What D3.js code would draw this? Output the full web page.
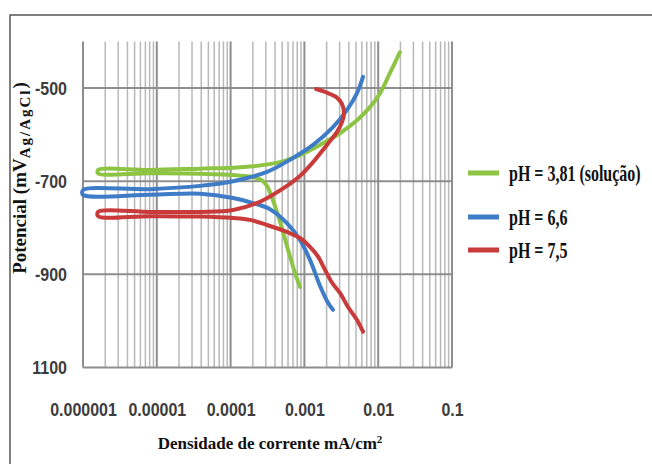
<!DOCTYPE html>
<html>
<head>
<meta charset="utf-8">
<script src="https://cdn.jsdelivr.net/npm/d3@7"></script>
<style>
  body { margin: 0; background: #fff; }
  svg { display: block; }
</style>
</head>
<body>
<svg id="chart" width="652" height="464"></svg>
<script>
// Polarization curves: [current density (mA/cm²), potential (mV Ag/AgCl)]
// Each curve is stored as its anodic and cathodic branch, both starting at the corrosion potential.
const green_anodic = [
  [1.6e-6, -676], [8.1e-6, -676], [3.85e-5, -673], [1.08e-4, -671], [2.01e-4, -668],
  [4.67e-4, -659], [8.7e-4, -644], [1.63e-3, -622], [3.03e-3, -597], [5.16e-3, -569],
  [7.74e-3, -541], [1.06e-2, -511], [1.44e-2, -468], [1.97e-2, -423]
];
const green_cathodic = [
  [1.6e-6, -683], [8.1e-6, -683], [3.85e-5, -684], [1.34e-4, -688], [2.14e-4, -692],
  [2.66e-4, -698], [3.11e-4, -710], [3.87e-4, -747], [4.82e-4, -794], [6.0e-4, -847],
  [7.46e-4, -897], [8.7e-4, -927]
];
const blue_anodic = [
  [1.0e-6, -719], [8.1e-6, -717], [3.85e-5, -710], [1.08e-4, -700], [3.11e-4, -680],
  [7.0e-4, -650], [1.31e-3, -622], [2.44e-3, -584], [3.78e-3, -547], [5.16e-3, -511],
  [6.22e-3, -476]
];
const blue_cathodic = [
  [1.0e-6, -729], [8.1e-6, -729], [3.85e-5, -727], [1.08e-4, -736], [2.01e-4, -747],
  [3.42e-4, -760], [5.8e-4, -790], [8.7e-4, -826], [1.19e-3, -869], [1.63e-3, -925],
  [2.09e-3, -961], [2.44e-3, -976]
];
const red_anodic = [
  [1.6e-6, -766], [8.1e-6, -766], [3.85e-5, -766], [1.08e-4, -762], [2.5e-4, -744],
  [5.8e-4, -710], [8.7e-4, -689], [1.31e-3, -659], [2.02e-3, -622], [2.77e-3, -594],
  [3.23e-3, -573], [3.44e-3, -556], [3.23e-3, -534], [2.68e-3, -519], [1.96e-3, -509],
  [1.44e-3, -502]
];
const red_cathodic = [
  [1.6e-6, -775], [8.1e-6, -775], [3.85e-5, -776], [1.08e-4, -779], [1.83e-4, -783],
  [3.11e-4, -794], [5.8e-4, -809], [8.7e-4, -822], [1.19e-3, -841], [1.53e-3, -862],
  [1.9e-3, -890], [2.37e-3, -918], [3.03e-3, -940], [3.9e-3, -970], [5.16e-3, -998],
  [6.22e-3, -1023]
];

const seriesNames = ["pH = 3,81 (solução)", "pH = 6,6", "pH = 7,5"];
const seriesColors = ["#8dc443", "#3f7cc8", "#c93a3a"];

const xTickValues = [1e-6, 1e-5, 1e-4, 1e-3, 1e-2, 1e-1];
const xTickLabels = ["0.000001", "0.00001", "0.0001", "0.001", "0.01", "0.1"];
const yTickValues = [-1100, -900, -700, -500];
const yTickLabels = ["1100", "-900", "-700", "-500"];

const series = [
  { name: seriesNames[0], color: seriesColors[0], anodic: green_anodic, cathodic: green_cathodic },
  { name: seriesNames[1], color: seriesColors[1], anodic: blue_anodic, cathodic: blue_cathodic },
  { name: seriesNames[2], color: seriesColors[2], anodic: red_anodic, cathodic: red_cathodic }
];

const svg = d3.select("#chart");
const serif = "'Liberation Serif', 'Times New Roman', serif";
const sans = "'Liberation Sans', Arial, sans-serif";

// frame around the figure
svg.append("rect")
  .attr("x", 10).attr("y", 15).attr("width", 700).attr("height", 500)
  .attr("fill", "none").attr("stroke", "#555").attr("stroke-width", 1.5);

const x = d3.scaleLog().domain([1e-6, 1e-1]).range([83, 452]);
const y = d3.scaleLinear().domain([-1100, -400]).range([367.5, 41.5]);

// vertical grid: decades plus 2..9 subdivisions
const grid = svg.append("g");
const vLines = [];
for (let e = -6; e <= -2; e++) {
  for (let k = 1; k <= 9; k++) vLines.push({ v: k * Math.pow(10, e), major: k === 1 });
}
vLines.push({ v: 1e-1, major: true });
grid.selectAll("line.v").data(vLines).join("line")
  .attr("class", "v")
  .attr("x1", d => x(d.v)).attr("x2", d => x(d.v))
  .attr("y1", y(-400)).attr("y2", y(-1100))
  .attr("stroke", d => d.major ? "#8e8e8e" : "#b8b8b8")
  .attr("stroke-width", d => d.major ? 2 : 1.5);

grid.selectAll("line.h").data(yTickValues).join("line")
  .attr("class", "h")
  .attr("x1", x(1e-6)).attr("x2", x(1e-1))
  .attr("y1", d => y(d)).attr("y2", d => y(d))
  .attr("stroke", "#8e8e8e").attr("stroke-width", 2);

// axes (labels only)
const xAxis = svg.append("g")
  .attr("transform", `translate(0,${y(-1100)})`)
  .call(d3.axisBottom(x).tickValues(xTickValues).tickFormat((d, i) => xTickLabels[i]).tickSize(0));
xAxis.select(".domain").remove();
xAxis.selectAll("text")
  .attr("y", 0).attr("dy", null)
  .attr("transform", "translate(0,48) scale(1,1.2)")
  .attr("font-family", sans).attr("font-size", 16).attr("font-weight", "bold")
  .attr("fill", "#3c3c3c");

const yAxis = svg.append("g")
  .attr("transform", `translate(${x(1e-6)},0)`)
  .call(d3.axisLeft(y).tickValues(yTickValues).tickFormat((d, i) => yTickLabels[i]).tickSize(0));
yAxis.select(".domain").remove();
yAxis.selectAll("text")
  .attr("x", 0).attr("dy", null)
  .attr("transform", "translate(-16,6) scale(1,1.2)")
  .attr("font-family", sans).attr("font-size", 16).attr("font-weight", "bold")
  .attr("fill", "#3c3c3c");

// curves: cathodic branch traced inward, then anodic branch outward
const line = d3.line()
  .x(d => x(d[0])).y(d => y(d[1]))
  .curve(d3.curveCatmullRom.alpha(0.5));

svg.append("g").selectAll("path").data(series).join("path")
  .attr("d", s => line(s.cathodic.slice().reverse().concat(s.anodic)))
  .attr("fill", "none")
  .attr("stroke", s => s.color)
  .attr("stroke-width", 4)
  .attr("stroke-linejoin", "round")
  .attr("stroke-linecap", "round");

// legend
const legendY = [173, 217, 250];
const legend = svg.append("g").selectAll("g").data(series).join("g")
  .attr("transform", (s, i) => `translate(468,${legendY[i]})`);
legend.append("line")
  .attr("x1", 0).attr("x2", 31).attr("y1", 0).attr("y2", 0)
  .attr("stroke", s => s.color).attr("stroke-width", 5);
legend.append("text")
  .attr("transform", "translate(41,0) scale(1,1.5)")
  .attr("dy", "0.35em")
  .attr("font-family", serif).attr("font-size", 16).attr("font-weight", "bold")
  .attr("fill", "#111")
  .text(s => s.name);

// axis titles
const xTitle = svg.append("text")
  .attr("x", 270).attr("y", 449)
  .attr("text-anchor", "middle")
  .attr("font-family", serif).attr("font-size", 17).attr("font-weight", "bold")
  .attr("fill", "#111");
xTitle.append("tspan").text("Densidade de corrente mA/cm");
xTitle.append("tspan").attr("dy", -6).attr("font-size", 11).text("2");

const yTitle = svg.append("text")
  .attr("transform", "translate(26,178) rotate(-90)")
  .attr("text-anchor", "middle")
  .attr("font-family", serif).attr("font-size", 19).attr("font-weight", "bold")
  .attr("fill", "#111");
yTitle.append("tspan").text("Potencial (mV");
yTitle.append("tspan").attr("dy", 4).attr("font-size", 15).attr("letter-spacing", 2).text("Ag/AgCl");
yTitle.append("tspan").attr("dy", -4).text(")");
</script>
</body>
</html>
